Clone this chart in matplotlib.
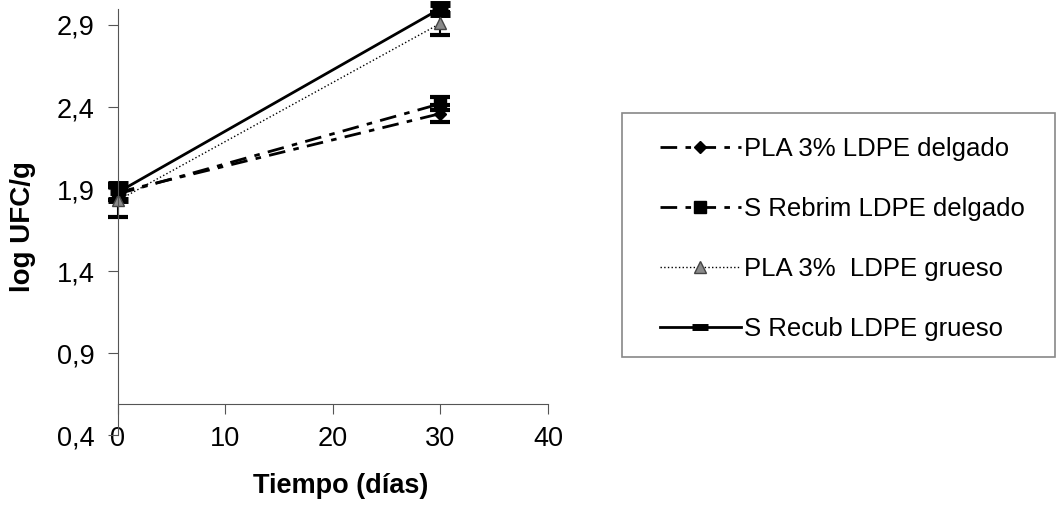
import numpy as np
import matplotlib
matplotlib.use("Agg")
import matplotlib.pyplot as plt
from matplotlib.lines import Line2D
from matplotlib.patches import Rectangle

plt.rcParams['font.family'] = ['Liberation Sans', 'DejaVu Sans']

# datos
dias = [0, 30]
series = ["PLA 3% LDPE delgado", "S Rebrim LDPE delgado",
          "PLA 3%  LDPE grueso", "S Recub LDPE grueso"]
pla_delgado = [1.88, 2.36]
pla_delgado_err = [0.05, 0.05]
rebrim_delgado = [1.87, 2.42]
rebrim_delgado_err = [0.04, 0.04]
pla_grueso = [1.83, 2.91]
pla_grueso_err = [0.10, 0.07]
recub_grueso = [1.88, 3.00]
recub_grueso_err = [0.05, 0.03]

yticks = [0.4, 0.9, 1.4, 1.9, 2.4, 2.9]
ytick_labels = ["0,4", "0,9", "1,4", "1,9", "2,4", "2,9"]
xticks = [0, 10, 20, 30, 40]

W, H = 1056, 521
fig = plt.figure(figsize=(W / 100, H / 100), dpi=100)
ax = fig.add_axes([0.1117, 0.165, 0.4072, 0.8185])

dashdot = (0, (6, 3, 2, 3))
estilos = [
    dict(linestyle=dashdot, lw=2, marker='D', ms=6, mfc='black', mec='black'),
    dict(linestyle=dashdot, lw=2, marker='s', ms=8, mfc='black', mec='black'),
    dict(linestyle=':', lw=1, marker='^', ms=9, mfc='#8a8a8a', mec='#444444'),
    dict(linestyle='-', lw=2, marker='_', ms=12, mew=5, mec='black'),
]
valores = [pla_delgado, rebrim_delgado, pla_grueso, recub_grueso]
errores = [pla_delgado_err, rebrim_delgado_err, pla_grueso_err, recub_grueso_err]

ebkw = dict(ecolor='black', elinewidth=1.5, capsize=7, capthick=3, color='black')
for v, e, st in zip(valores, errores, estilos):
    ax.errorbar(dias, v, yerr=e, clip_on=False, **st, **ebkw)

ax.set_xlim(0, 40)
ax.set_ylim(0.4, 3.0)
ax.set_xticks(xticks)
ax.set_yticks(yticks)
ax.set_yticklabels(ytick_labels)
ax.tick_params(labelsize=19.5, color='#555555', length=7)
ax.tick_params(axis='x', direction='out', pad=9)
ax.tick_params(axis='y', pad=10)

ax.spines['top'].set_visible(False)
ax.spines['right'].set_visible(False)
ax.spines['bottom'].set_position(('data', 0.59))
ax.spines['left'].set_color('#555555')
ax.spines['bottom'].set_color('#555555')

ax.set_ylabel("log UFC/g", fontsize=20, fontweight='bold')
ax.yaxis.set_label_coords(-0.19, 0.49)
fig.text(0.3225, 0.068, "Tiempo (días)", fontsize=19.5, fontweight='bold',
         ha='center', va='center')

# marco de la leyenda
fig.patches.append(Rectangle((622 / W, 1 - 357 / H), 433 / W, 244 / H,
                             transform=fig.transFigure, fill=False,
                             edgecolor='#888888', lw=1.2))

handles = [Line2D([], [], color='black', **st) for st in estilos]
leg = fig.legend(handles, series, loc='upper left',
                 bbox_to_anchor=(660 / W, 1 - 137 / H),
                 bbox_transform=fig.transFigure,
                 fontsize=18.5, handlelength=3.15, labelspacing=1.4, borderpad=0,
                 frameon=False, handletextpad=0.1, borderaxespad=0)

fig.savefig("out.png", dpi=100)
